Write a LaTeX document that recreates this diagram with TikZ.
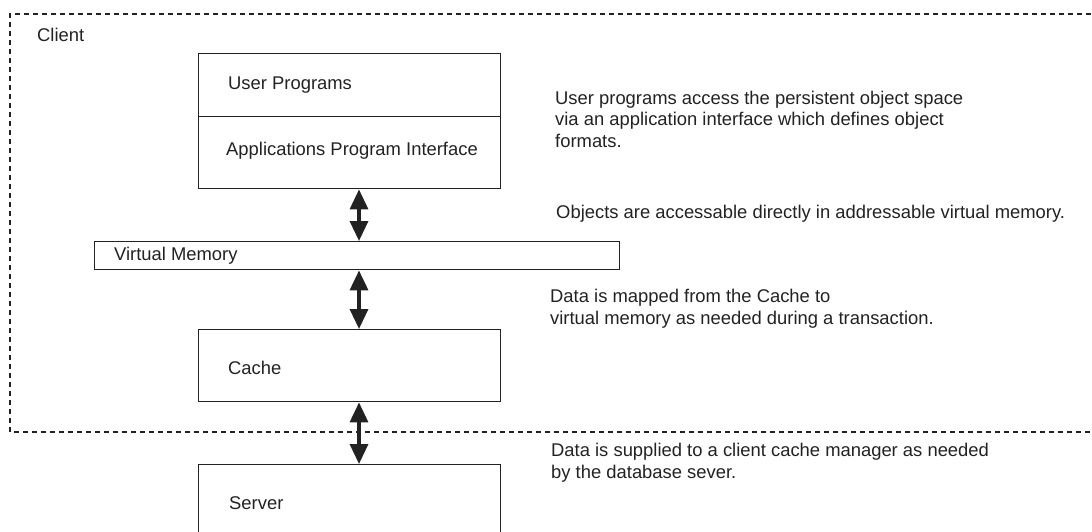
\documentclass[tikz,border=0pt]{standalone}
\usepackage{fontspec}
\setmainfont{Liberation Sans}
\usetikzlibrary{arrows.meta}
\definecolor{ink}{HTML}{222222}
\begin{document}
\begin{tikzpicture}[x=1pt,y=-1pt,
  box/.style={draw=ink, line width=1.4pt, rectangle, inner sep=0pt, anchor=north west},
  area/.style={rectangle, inner sep=0pt, anchor=north west},
  lbl/.style={text=ink, font=\fontsize{18.4}{21.5}\selectfont, anchor=west, inner sep=0pt},
  note/.style={lbl, align=left},
  dbl/.style={draw=ink, line width=3.4pt, {Triangle[width=18pt,length=20pt]}-{Triangle[width=18pt,length=20pt]}},
  frame/.style={draw=ink, line width=1.6pt, dash pattern=on 5pt off 4pt}]
\useasboundingbox (0,0) rectangle (1092,531);
\clip (0,0) rectangle (1092,531);
% client frame
\coordinate (ftr) at (1100,14);
\coordinate (fbl) at (10,432);
\coordinate (fbr) at (1100,432);
\draw[frame] (ftr) -| (fbl) -- (fbr);
\node[lbl] (client) at (37,35) {Client};
% boxes
\node[box, minimum width=302pt, minimum height=135pt] (prog) at (198,53) {};
\node[area, minimum width=302pt, minimum height=63pt] (up) at (prog.north west) {};
\draw[draw=ink, line width=1.4pt] (up.south west) -- (up.south east);
\node[box, minimum width=525pt, minimum height=28pt] (vm) at (94,241) {};
\node[box, minimum width=302pt, minimum height=72pt] (cache) at (198,329) {};
\node[box, minimum width=302pt, minimum height=100pt] (server) at (198,464) {};
% box labels
\node[lbl] (tup) at (228,85) {User Programs};
\node[lbl] (tapi) at (226,151) {Applications Program Interface};
\node[lbl] (tvm) at (114,256) {Virtual Memory};
\node[lbl] (tcache) at (228,368) {Cache};
\node[lbl] (tserver) at (229,503) {Server};
% arrows
\coordinate (ax) at (359,0);
\draw[dbl] (prog.south -| ax) -- (vm.north -| ax);
\draw[dbl] (vm.south -| ax) -- (cache.north -| ax);
\draw[dbl] (cache.south -| ax) -- (server.north -| ax);
% notes
\node[note] (n1) at (555,119) {User programs access the persistent object space\\via an application interface which defines object\\formats.};
\node[note] (n2) at (556,214) {Objects are accessable directly in addressable virtual memory.};
\node[note] (n3) at (550,308.5) {Data is mapped from the Cache to\\virtual memory as needed during a transaction.};
\node[note] (n4) at (551,462.5) {Data is supplied to a client cache manager as needed\\by the database sever.};
\end{tikzpicture}
\end{document}
